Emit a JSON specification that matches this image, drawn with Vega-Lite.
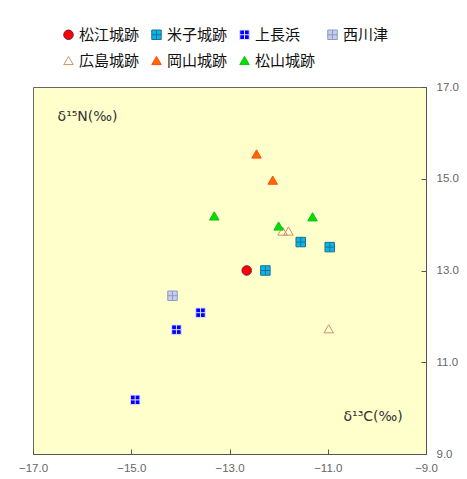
{
  "$schema": "https://vega.github.io/schema/vega-lite/v6.json",
  "autosize": {"type": "none"},
  "padding": {"left": 33, "top": 87, "right": 41, "bottom": 25},
  "width": 393,
  "height": 367,
  "background": "white",
  "view": {"fill": "#FFFFCC", "stroke": "#666666", "strokeWidth": 1},
  "data": {
    "values": [
      {"site": "松江城跡", "d13C": -12.65, "d15N": 13.0},
      {"site": "米子城跡", "d13C": -12.27, "d15N": 13.0},
      {"site": "米子城跡", "d13C": -11.55, "d15N": 13.62},
      {"site": "米子城跡", "d13C": -10.96, "d15N": 13.51},
      {"site": "上長浜", "d13C": -13.59, "d15N": 12.08},
      {"site": "上長浜", "d13C": -14.08, "d15N": 11.71},
      {"site": "上長浜", "d13C": -14.92, "d15N": 10.18},
      {"site": "西川津", "d13C": -14.16, "d15N": 12.45},
      {"site": "広島城跡", "d13C": -11.92, "d15N": 13.86},
      {"site": "広島城跡", "d13C": -11.8, "d15N": 13.86},
      {"site": "広島城跡", "d13C": -10.98, "d15N": 11.73},
      {"site": "岡山城跡", "d13C": -12.45, "d15N": 15.54},
      {"site": "岡山城跡", "d13C": -12.12, "d15N": 14.97},
      {"site": "松山城跡", "d13C": -13.31, "d15N": 14.19},
      {"site": "松山城跡", "d13C": -12.0, "d15N": 13.97},
      {"site": "松山城跡", "d13C": -11.31, "d15N": 14.17}
    ]
  },
  "layer": [
    {
      "mark": {"type": "point", "filled": true, "size": 90, "strokeWidth": 1, "opacity": 1},
      "encoding": {
        "x": {
          "field": "d13C", "type": "quantitative",
          "scale": {"domain": [-17, -9], "nice": false, "zero": false},
          "axis": {
            "orient": "bottom", "title": null, "values": [-17, -15, -13, -11, -9],
            "format": ".1f", "grid": false, "domain": true, "domainColor": "#555555",
            "tickColor": "#555555", "tickSize": -5, "labelPadding": 13,
            "labelColor": "#666666", "labelFontSize": 11.5, "labelFont": "Liberation Sans",
            "labelFlush": false
          }
        },
        "y": {
          "field": "d15N", "type": "quantitative",
          "scale": {"domain": [9, 17], "nice": false, "zero": false},
          "axis": {
            "orient": "right", "title": null, "values": [9, 11, 13, 15, 17],
            "format": ".1f", "grid": false, "domain": true, "domainColor": "#555555",
            "tickColor": "#555555", "tickSize": -5, "labelPadding": 15,
            "labelColor": "#666666", "labelFontSize": 11.5, "labelFont": "Liberation Sans",
            "labelFlush": false
          }
        },
        "shape": {
          "field": "site", "type": "nominal",
          "scale": {
            "domain": ["松江城跡", "米子城跡", "上長浜", "西川津", "広島城跡", "岡山城跡", "松山城跡"],
            "range": [
              "circle",
              "M-1,-1H1V1H-1Z M-1,0H1 M0,-1V1",
              "M-1,-1H1V1H-1Z M-1,0H1 M0,-1V1",
              "M-1,-1H1V1H-1Z M-1,0H1 M0,-1V1",
              "triangle-up", "triangle-up", "triangle-up"
            ]
          }
        },
        "fill": {
          "field": "site", "type": "nominal",
          "scale": {
            "domain": ["松江城跡", "米子城跡", "上長浜", "西川津", "広島城跡", "岡山城跡", "松山城跡"],
            "range": ["#FF0000", "#00B8F0", "#0000FF", "#C8CCF0", "transparent", "#FF6A00", "#00E000"]
          },
          "legend": {
            "orient": "none", "legendX": 28, "legendY": -60, "title": null,
            "direction": "horizontal",
            "columns": 4, "columnPadding": 9, "rowPadding": 10, "padding": 0,
            "labelFontSize": 15, "labelColor": "#111111", "labelFont": "Noto Sans CJK JP",
            "labelOffset": 3, "symbolSize": 90, "symbolStrokeWidth": 1, "symbolOpacity": 1
          }
        },
        "stroke": {
          "field": "site", "type": "nominal",
          "scale": {
            "domain": ["松江城跡", "米子城跡", "上長浜", "西川津", "広島城跡", "岡山城跡", "松山城跡"],
            "range": ["#7A1040", "#2A6C88", "#E0E0FF", "#8A9CC0", "#C8966A", "#FF4A10", "#10C010"]
          }
        }
      }
    },
    {
      "data": {"values": [{}]},
      "mark": {"type": "text", "align": "left", "baseline": "middle", "fontSize": 14, "color": "#333333", "font": "DejaVu Sans"},
      "encoding": {
        "x": {"datum": -16.5},
        "y": {"datum": 16.35},
        "text": {"value": "δ¹⁵N(‰)"}
      }
    },
    {
      "data": {"values": [{}]},
      "mark": {"type": "text", "align": "left", "baseline": "middle", "fontSize": 14, "color": "#333333", "font": "DejaVu Sans"},
      "encoding": {
        "x": {"datum": -10.68},
        "y": {"datum": 9.8},
        "text": {"value": "δ¹³C(‰)"}
      }
    }
  ]
}
